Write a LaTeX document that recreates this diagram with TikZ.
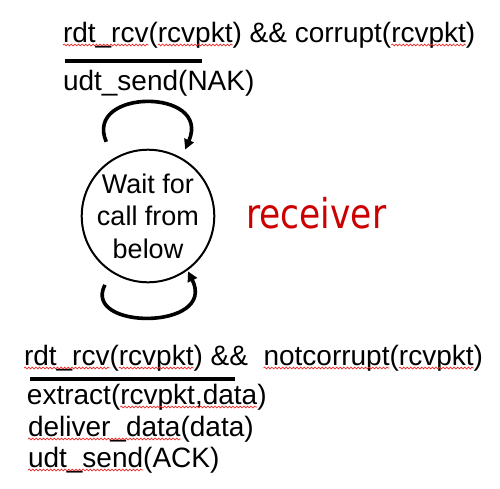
\documentclass[tikz,border=0pt]{standalone}
\usepackage{fontspec}
\setmainfont{Liberation Sans}
\newfontfamily\recfont[FakeStretch=0.84]{DejaVu Sans}
\usetikzlibrary{arrows.meta,decorations.pathmorphing}
\definecolor{recred}{RGB}{204,0,0}
\definecolor{sqred}{RGB}{240,40,40}
\tikzset{
  txt/.style={inner sep=0pt, outer sep=0pt, anchor=base west, font=\fontsize{28}{32}\selectfont},
  sq/.style={draw=sqred, line width=0.7pt, decorate, decoration={snake, amplitude=0.9pt, segment length=3.6pt}},
  bar/.style={line width=4pt},
  state/.style={circle, draw, line width=2pt, minimum size=130pt, inner sep=0pt, align=center, font=\fontsize{27}{32.5}\selectfont},
  loopline/.style={line width=3.6pt, -{Triangle[length=10pt,width=10pt]}},
}
\newcommand\squig[1]{\draw[sq] ([yshift=-3pt]#1.base west) -- ([yshift=-3pt]#1.base east);}
\begin{document}
\begin{tikzpicture}[x=1pt,y=-1pt]
\useasboundingbox (0,0) rectangle (500,488);
% top transition label
\node[txt] (a1) at (63,42) {rdt\_rcv};
\node[txt] (a2) at (a1.base east) {(};
\node[txt] (a3) at (a2.base east) {rcvpkt};
\node[txt] (a4) at (a3.base east) {) \&\& corrupt(};
\node[txt] (a5) at (a4.base east) {rcvpkt};
\node[txt] (a6) at (a5.base east) {)};
\squig{a1}\squig{a3}\squig{a5}
\coordinate (b1l) at (65,61);
\coordinate (b1r) at (202,61);
\draw[bar] (b1l) -- (b1r);
\node[txt] (a7) at (63,90) {udt\_send(NAK)};
% state
\node[state] (w) at (148,216) {Wait for\\call from\\below};
\draw[loopline, shorten <=18pt, shorten >=9pt] (w.121) .. controls +(-30,-70) and +(30,-70) .. (w.60);
\draw[loopline, shorten <=14pt, shorten >=1pt] (w.237) .. controls +(-30,58) and +(30,60) .. (w.306);
\node[anchor=base west, inner sep=0pt, text=recred, font=\recfont\fontsize{41}{48}\selectfont] (rec) at (246,228) {receiver};
% bottom transition label
\node[txt] (c1) at (24,365) {rdt\_rcv};
\node[txt] (c2) at (c1.base east) {(};
\node[txt] (c3) at (c2.base east) {rcvpkt};
\node[txt] (c4) at (c3.base east) {) \&\&\hspace*{15.5pt}};
\node[txt] (c5) at (c4.base east) {notcorrupt};
\node[txt] (c6) at (c5.base east) {(};
\node[txt] (c7) at (c6.base east) {rcvpkt};
\node[txt] (c8) at (c7.base east) {)};
\squig{c1}\squig{c3}\squig{c5}\squig{c7}
\coordinate (b2l) at (30,379);
\coordinate (b2r) at (235,379);
\draw[bar] (b2l) -- (b2r);
\node[txt] (d1) at (27,404) {extract(};
\node[txt] (d2) at (d1.base east) {rcvpkt,data};
\node[txt] (d3) at (d2.base east) {)};
\squig{d2}
\node[txt] (e1) at (28,436) {deliver\_data};
\node[txt] (e2) at (e1.base east) {(data)};
\squig{e1}
\node[txt] (f1) at (28,467) {udt\_send};
\node[txt] (f2) at (f1.base east) {(ACK)};
\squig{f1}
\end{tikzpicture}
\end{document}
